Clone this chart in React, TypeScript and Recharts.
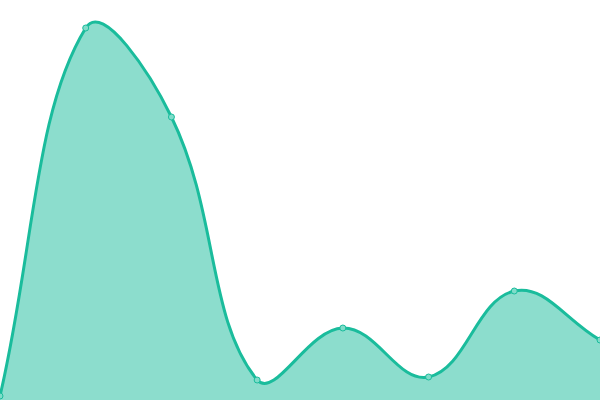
import { AreaChart, Area, XAxis, YAxis } from "recharts"

const labels = ["A", "B", "C", "D", "E", "F", "G", "H"]
const values = [1, 93, 70.75, 5, 18, 5.75, 27.25, 15]

const data = labels.map((label, i) => ({ label, value: values[i] }))

// tension spline (bezier control points from neighbours), like a tension 0.4 line
const TENSION = 0.4
const W = 600
const H = 400

function tensionCurve(context: any) {
  let pts: number[][] = []
  let line = NaN
  return {
    areaStart() {
      line = 0
    },
    areaEnd() {
      line = NaN
    },
    lineStart() {
      pts = []
    },
    point(x: number, y: number) {
      pts.push([+x, +y])
    },
    lineEnd() {
      const n = pts.length
      if (n > 0) {
        if (line) context.lineTo(pts[0][0], pts[0][1])
        else context.moveTo(pts[0][0], pts[0][1])
        const ctrl = pts.map((cur, i) => {
          const prev = pts[i - 1] || cur
          const next = pts[i + 1] || cur
          const d01 = Math.hypot(cur[0] - prev[0], cur[1] - prev[1])
          const d12 = Math.hypot(next[0] - cur[0], next[1] - cur[1])
          let s01 = d01 / (d01 + d12)
          let s12 = d12 / (d01 + d12)
          if (isNaN(s01)) s01 = 0
          if (isNaN(s12)) s12 = 0
          const fa = TENSION * s01
          const fb = TENSION * s12
          const clampX = (v: number) => Math.max(0, Math.min(W, v))
          const clampY = (v: number) => Math.max(0, Math.min(H, v))
          return {
            px: clampX(cur[0] - fa * (next[0] - prev[0])),
            py: clampY(cur[1] - fa * (next[1] - prev[1])),
            nx: clampX(cur[0] + fb * (next[0] - prev[0])),
            ny: clampY(cur[1] + fb * (next[1] - prev[1])),
          }
        })
        for (let i = 1; i < n; i++) {
          context.bezierCurveTo(ctrl[i - 1].nx, ctrl[i - 1].ny, ctrl[i].px, ctrl[i].py, pts[i][0], pts[i][1])
        }
      }
      if (line || (line !== 0 && n === 1)) context.closePath()
      line = 1 - line
    },
  }
}

export default function App() {
  return (
    <div style={{ position: "absolute", left: 0, top: 0, width: 600, height: 400, background: "#fff" }}>
      <AreaChart width={600} height={400} data={data} margin={{ top: 0, right: 0, left: 0, bottom: 0 }}>
        <XAxis dataKey="label" hide />
        <YAxis domain={[0, 100]} hide />
        <Area
          type={tensionCurve as any}
          dataKey="value"
          stroke="#1abc9c"
          strokeWidth={3}
          fill="#1abc9c"
          fillOpacity={0.5}
          dot={{ r: 3, fill: "#7fdcc9", stroke: "#1abc9c", strokeWidth: 1, fillOpacity: 1 }}
          activeDot={false}
          isAnimationActive={false}
        />
      </AreaChart>
    </div>
  )
}
